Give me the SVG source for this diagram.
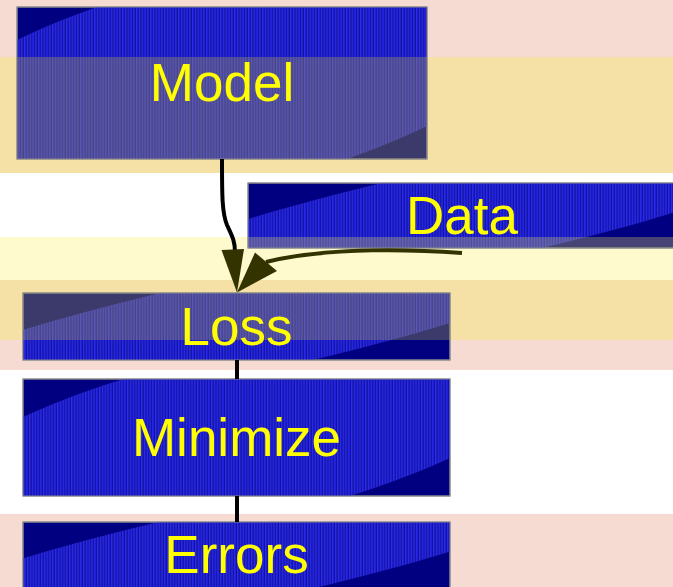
<svg xmlns="http://www.w3.org/2000/svg" width="673" height="587" viewBox="0 0 673 587">
  <style>
    .box { fill: #000080; stroke: #8a8a8a; stroke-width: 1; }
    .sheen { fill: url(#stripes); }
    .label { font-family: "Liberation Sans", Arial, sans-serif; font-size: 53px; fill: #ffff00; text-anchor: middle; }
    .tintY { fill: #c8be3c; opacity: 0.3; }
    .tintL { fill: #e6e05a; opacity: 0.3; }
    .wire { fill: none; stroke-width: 4; }
  </style>
  <defs>
    <pattern id="stripes" patternUnits="userSpaceOnUse" width="2.8" height="10" patternTransform="rotate(12)">
      <rect width="2.8" height="10" fill="#12129e"/>
      <rect width="1.4" height="10" fill="#2b2bf2"/>
    </pattern>
    <clipPath id="clipModel"><rect x="17" y="7" width="410" height="152"/></clipPath>
    <clipPath id="clipData"><rect x="248" y="183" width="428" height="65"/></clipPath>
    <clipPath id="clipLoss"><rect x="23" y="293" width="427" height="67"/></clipPath>
    <clipPath id="clipMin"><rect x="23" y="379" width="427" height="117"/></clipPath>
    <clipPath id="clipErr"><rect x="23" y="522" width="427" height="66"/></clipPath>
  </defs>

  <!-- background bands -->
  <g id="bands">
    <rect x="0" y="0" width="673" height="587" fill="#ffffff"/>
    <rect x="0" y="0" width="673" height="57" fill="#f5dbd2"/>
    <rect x="0" y="57" width="673" height="116" fill="#f5e1a5"/>
    <rect x="0" y="237" width="673" height="43" fill="#fffacd"/>
    <rect x="0" y="280" width="673" height="60" fill="#f5e1a5"/>
    <rect x="0" y="340" width="673" height="30" fill="#f5dbd2"/>
    <rect x="0" y="514" width="673" height="73" fill="#f5dbd2"/>
  </g>

  <g id="node-model">
    <rect class="box" x="17" y="7" width="410" height="152"/>
    <g clip-path="url(#clipModel)">
      <ellipse class="sheen" cx="222" cy="83" rx="316" ry="106.5" transform="rotate(-12 222 83)"/>
      <rect class="tintY" x="17" y="57" width="410" height="102"/>
    </g>
    <rect x="17" y="7" width="410" height="152" fill="none" stroke="#8a8a8a"/>
    <text class="label" x="222" y="101">Model</text>
  </g>

  <g id="node-data">
    <rect class="box" x="248" y="183" width="428" height="65"/>
    <g clip-path="url(#clipData)">
      <ellipse class="sheen" cx="462" cy="215.5" rx="373" ry="49.5" transform="rotate(-12 462 215.5)"/>
      <rect class="tintL" x="248" y="237" width="428" height="11"/>
    </g>
    <rect x="248" y="183" width="428" height="65" fill="none" stroke="#8a8a8a"/>
    <text class="label" x="462" y="234">Data</text>
  </g>

  <g id="node-loss">
    <rect class="box" x="23" y="293" width="427" height="67"/>
    <g clip-path="url(#clipLoss)">
      <ellipse class="sheen" cx="236.5" cy="326.5" rx="373" ry="49.5" transform="rotate(-12 236.5 326.5)"/>
      <rect class="tintY" x="23" y="293" width="427" height="47"/>
    </g>
    <rect x="23" y="293" width="427" height="67" fill="none" stroke="#8a8a8a"/>
    <text class="label" x="236.5" y="345">Loss</text>
  </g>

  <g id="node-minimize">
    <rect class="box" x="23" y="379" width="427" height="117"/>
    <g clip-path="url(#clipMin)">
      <ellipse class="sheen" cx="236.5" cy="437.5" rx="313" ry="85" transform="rotate(-12 236.5 437.5)"/>
    </g>
    <rect x="23" y="379" width="427" height="117" fill="none" stroke="#8a8a8a"/>
    <text class="label" x="236.5" y="456">Minimize</text>
  </g>

  <g id="node-errors">
    <rect class="box" x="23" y="522" width="427" height="66"/>
    <g clip-path="url(#clipErr)">
      <ellipse class="sheen" cx="236.5" cy="555" rx="373" ry="49.5" transform="rotate(-12 236.5 555)"/>
    </g>
    <rect x="23" y="522" width="427" height="66" fill="none" stroke="#8a8a8a"/>
    <text class="label" x="236.5" y="573">Errors</text>
  </g>

  <!-- connectors -->
  <g id="edges">
    <path class="wire" stroke="#000000" d="M222,159 C222,195 222,213 227,225 C232,236 235,241 235,252"/>
    <polygon fill="#333300" points="221.5,250 244,249 237,292.5"/>
    <path class="wire" stroke="#333300" d="M462,253 C420,250 330,246 266,262"/>
    <polygon fill="#333300" points="255,252.5 277,271 237,292.5"/>
    <line class="wire" stroke="#000000" x1="237" y1="360" x2="237" y2="379"/>
    <line class="wire" stroke="#000000" x1="237" y1="496" x2="237" y2="522"/>
  </g>
</svg>
